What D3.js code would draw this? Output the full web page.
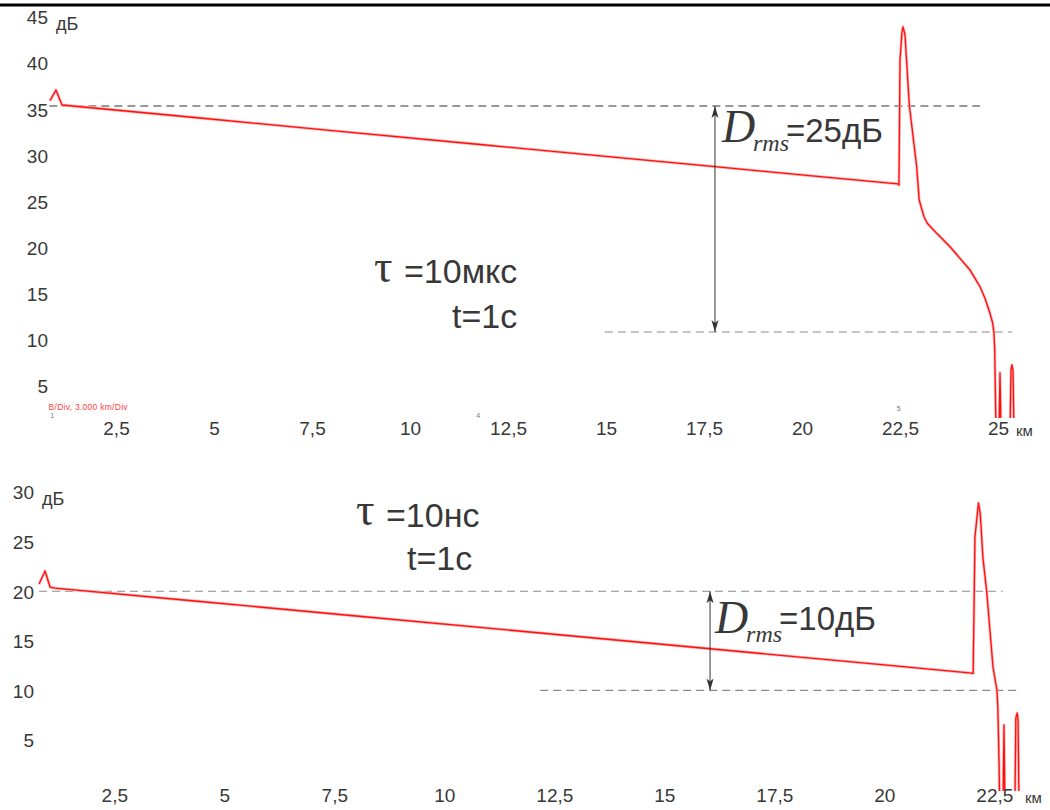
<!DOCTYPE html>
<html><head><meta charset="utf-8">
<script src="https://cdn.jsdelivr.net/npm/d3@7"></script>
<style>body{margin:0;background:#fff}</style>
</head><body>
<svg id="c" width="1050" height="810"></svg>
<script>
// ---------- data ----------
const xTicksTop = [2.5,5,7.5,10,12.5,15,17.5,20,22.5,25];
const xLabelsTop = ["2,5","5","7,5","10","12,5","15","17,5","20","22,5","25"];
const xTicksBottom = [2.5,5,7.5,10,12.5,15,17.5,20,22.5];
const xLabelsBottom = ["2,5","5","7,5","10","12,5","15","17,5","20","22,5"];
const yTicksTop = [5,10,15,20,25,30,35,40,45];
const yTicksBottom = [5,10,15,20,25,30];
const unitY = "дБ";
const unitX = "км";

// top trace (pulse 10 us)
const topKm = [0.816,0.969,1.122,4.643,8.087,11.786,15.128,17.781,20.663,22.449,22.474,22.500,22.551,22.577,22.628,22.737,22.926,22.990,23.112,23.196,23.436,23.776,24.031,24.286,24.413,24.541,24.668,24.796,24.865,24.898,24.916,24.949,25.026,25.051,25.077,25.306,25.332,25.357,25.383,25.408,25.485];
const topDb = [35.93,37.09,35.46,34.05,32.66,31.18,29.83,28.77,27.61,26.90,26.79,40.34,43.37,43.92,43.05,35.46,28.77,25.16,23.35,22.64,21.55,20.10,18.84,17.57,16.67,15.76,14.51,12.88,11.80,10.71,8.90,0,0,6.41,0,0,6.8,7.28,6.6,0,0];

// bottom trace (pulse 10 ns)
const botKm = [0.79,0.925,1.04,1.15,4.45,8.0,12.0,16.04,20.0,21.99,22.02,22.06,22.14,22.18,22.24,22.33,22.40,22.47,22.56,22.58,22.61,22.62,22.70,22.72,22.74,22.97,22.99,23.02,23.04,23.06,23.1];
const botDb = [20.73,22.04,20.42,20.32,18.96,17.50,15.86,14.20,12.57,11.75,11.70,25.46,28.89,27.88,23.45,19.82,16.09,12.36,10.04,8.33,2.28,-1,-1,6.51,-1,-1,7.22,7.72,7.0,-1,-1];

// annotation values
const topLevels = [35.35, 10.85];
const botLevels = [20, 10];
const topDashKm = [[0.8,24.54],[14.97,25.36]];
const botDashKm = [[0.79,22.69],[12.18,23.02]];
const topArrowKm = 17.78, botArrowKm = 16.04;
const topDrmsText = "=25дБ", botDrmsText = "=10дБ";
const topTau = "=10мкс", botTau = "=10нс", timeText = "t=1с";
const scaleInfo = "B/Div, 3.000 km/Div";
const markerKm = [0.87, 11.74, 22.47];
const markerText = ["1","4","5"];

// ---------- drawing ----------
const svg = d3.select("#c");
svg.append("rect").attr("width",1050).attr("height",810).attr("fill","#fff");
svg.append("line").attr("x1",0).attr("x2",1050).attr("y1",5).attr("y2",5)
  .attr("stroke","#000").attr("stroke-width",3);

const defs = svg.append("defs");
defs.append("marker").attr("id","ah").attr("markerUnits","userSpaceOnUse")
  .attr("markerWidth",13).attr("markerHeight",8).attr("refX",12).attr("refY",4)
  .attr("orient","auto-start-reverse")
  .append("path").attr("d","M0,0.5 L12,4 L0,7.5 L3,4 Z").attr("fill","#333");

const SANS = "'Liberation Sans', Arial, sans-serif";
const SERIF = "'Liberation Serif', 'Times New Roman', serif";
const TXT = "#383838";

function panel(o){
  const g = svg.append("g");
  const x = d3.scaleLinear().domain([2.5, o.xMax]).range(o.xRange);
  const y = d3.scaleLinear().domain([5, o.yMax]).range(o.yRange);
  const cid = "clip"+o.id;
  defs.append("clipPath").attr("id",cid).append("rect")
    .attr("x",0).attr("y",o.clip[0]).attr("width",1050).attr("height",o.clip[1]-o.clip[0]);

  o.dash.forEach((d,i)=>{
    g.append("line").attr("x1",x(d[0])).attr("x2",x(d[1]))
      .attr("y1",y(o.levels[i])).attr("y2",y(o.levels[i]))
      .attr("stroke", o.dashColor[i]).attr("stroke-width",1.1)
      .attr("stroke-dasharray","8,5");
  });

  const pts = o.km.map((k,i)=>[k,o.db[i]]);
  const line = d3.line().x(d=>x(d[0])).y(d=>y(d[1]));
  const tg = g.append("g").attr("clip-path","url(#"+cid+")");
  tg.append("path").datum(pts).attr("d",line).attr("fill","none")
    .attr("stroke","#ffb0b0").attr("stroke-width",2.8).attr("stroke-linejoin","round");
  tg.append("path").datum(pts).attr("d",line).attr("fill","none")
    .attr("stroke","#ff1010").attr("stroke-width",1.3).attr("stroke-linejoin","round");

  const ax = g.append("g").attr("transform","translate(0,"+o.xLabelY+")")
    .call(d3.axisBottom(x).tickValues(o.xTicks).tickFormat((d,i)=>o.xLabels[i]).tickSize(0));
  ax.select(".domain").remove();
  ax.selectAll("text").attr("y",0).attr("dy","0.36em")
    .attr("font-family",SANS).attr("font-size",19).attr("fill",TXT);
  g.append("text").attr("x",o.kmX).attr("y",o.xLabelY+3).attr("dy","0.36em")
    .attr("font-family",SANS).attr("font-size",15).attr("fill",TXT).text(unitX);

  const ay = g.append("g").attr("transform","translate("+o.yLabelX+",0)")
    .call(d3.axisLeft(y).tickValues(o.yTicks).tickFormat(d3.format("d")).tickSize(0).tickPadding(0));
  ay.select(".domain").remove();
  ay.selectAll("text").attr("x",0).attr("dy","0.36em")
    .attr("font-family",SANS).attr("font-size",19).attr("fill",TXT);
  g.append("text").attr("x",o.yLabelX+8).attr("y",y(o.yMax)+7).attr("dy","0.36em")
    .attr("font-family",SANS).attr("font-size",18).attr("fill",TXT).text(unitY);

  const axX = x(o.arrowKm);
  g.append("line").attr("x1",axX).attr("x2",axX)
    .attr("y1",y(o.levels[0])).attr("y2",y(o.levels[1]))
    .attr("stroke","#333").attr("stroke-width",1)
    .attr("marker-start","url(#ah)").attr("marker-end","url(#ah)");

  const t = g.append("text").attr("fill",TXT);
  t.append("tspan").attr("x",axX+o.dOff).attr("y",y(o.levels[0])+o.dBase)
    .attr("font-family",SERIF).attr("font-style","italic").attr("font-size",46).text("D");
  t.append("tspan").attr("x",axX+o.dOff+31).attr("y",y(o.levels[0])+o.dBase+9)
    .attr("font-family",SERIF).attr("font-style","italic").attr("font-size",24).text("rms");
  t.append("tspan").attr("x",axX+o.dOff+64).attr("y",y(o.levels[0])+o.eqBase)
    .attr("font-family",SANS).attr("font-size",33).text(o.drms);

  g.append("text").attr("x",o.tau[0]).attr("y",o.tau[1]).attr("fill",TXT)
    .attr("font-family",SERIF).attr("font-size",46).text("τ");
  g.append("text").attr("x",o.tau[2]).attr("y",o.tau[3]).attr("fill",TXT)
    .attr("font-family",SANS).attr("font-size",o.tauSize).text(o.tauText);
  g.append("text").attr("x",o.tau[4]).attr("y",o.tau[5]).attr("fill",TXT)
    .attr("font-family",SANS).attr("font-size",o.tauSize).text(timeText);
  return {g,x,y};
}

const topPanel = panel({
  id:"t", xMax:25, xRange:[116,998], yMax:45, yRange:[386,17], clip:[10,418],
  km:topKm, db:topDb, levels:topLevels, dash:topDashKm, dashColor:["#333","#8a8a8a"],
  xTicks:xTicksTop, xLabels:xLabelsTop, xLabelY:428, kmX:1016,
  yTicks:yTicksTop, yLabelX:48, arrowKm:topArrowKm,
  dOff:7, dBase:36, eqBase:36, drms:topDrmsText,
  tau:[374,282,404,283,452,328], tauSize:34, tauText:topTau
});
const botPanel = panel({
  id:"b", xMax:22.5, xRange:[114.3,994.3], yMax:30, yRange:[740,492], clip:[470,791],
  km:botKm, db:botDb, levels:botLevels, dash:botDashKm, dashColor:["#8a8a8a","#8a8a8a"],
  xTicks:xTicksBottom, xLabels:xLabelsBottom, xLabelY:795, kmX:1025,
  yTicks:yTicksBottom, yLabelX:34, arrowKm:botArrowKm,
  dOff:5, dBase:42, eqBase:39, drms:botDrmsText,
  tau:[356,525,386,527,407,570], tauSize:34, tauText:botTau
});

topPanel.g.append("text").attr("x",topPanel.x(0.78)).attr("y",topPanel.y(5)+24)
  .attr("font-family",SANS).attr("font-size",8.5).attr("fill","#ff4040")
  .attr("textLength",79).text(scaleInfo);
markerKm.forEach((k,i)=>{
  topPanel.g.append("text").attr("x",topPanel.x(k)).attr("y",topPanel.y(5)+(i==2?25:32))
    .attr("font-family",SANS).attr("font-size",7).attr("fill","#777")
    .attr("text-anchor","middle").text(markerText[i]);
});
</script>
</body></html>
